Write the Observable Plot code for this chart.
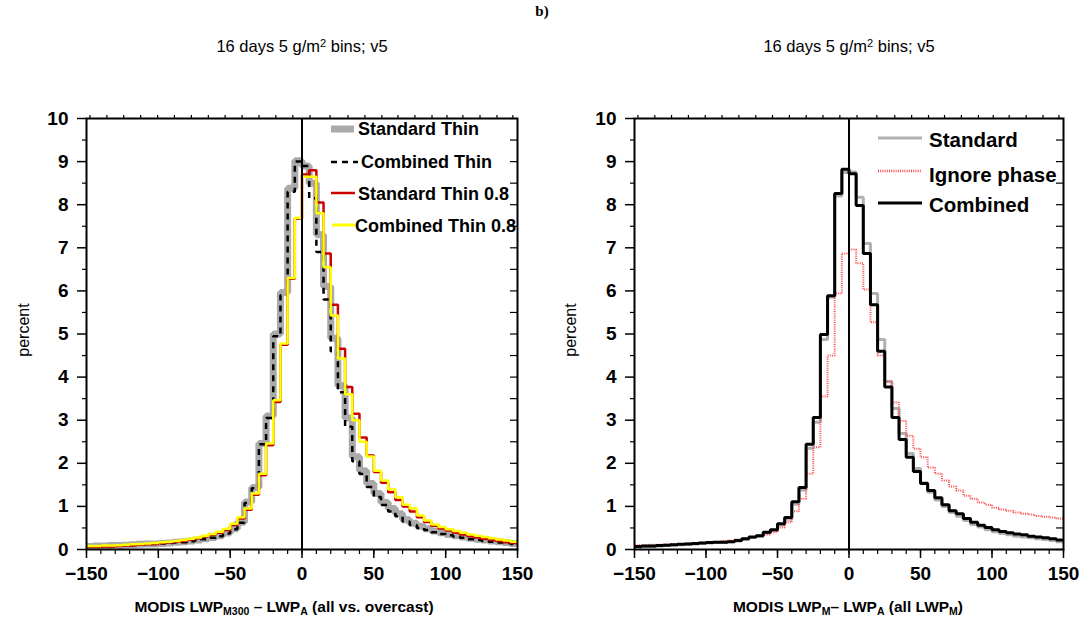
<!DOCTYPE html>
<html>
<head>
<meta charset="utf-8">
<script src="https://cdn.jsdelivr.net/npm/d3@7"></script>
<script src="https://cdn.jsdelivr.net/npm/@observablehq/plot@0.6"></script>
<style>
  body { margin: 0; background: #fff; }
  #fig { position: relative; width: 1084px; height: 620px; background: #fff; font-family: "Liberation Sans", Arial, sans-serif; color: #000; overflow: hidden; }
  .abs { position: absolute; }
  .title { font-family: "Liberation Serif", "Times New Roman", serif; font-weight: bold; font-size: 15px; left: 0; width: 1084px; text-align: center; top: 3px; }
  .sub { font-size: 16.5px; width: 300px; text-align: center; top: 37px; }
  .ylab { font-size: 16px; width: 100px; text-align: center; transform: rotate(-90deg); transform-origin: 50% 50%; height: 18px; line-height: 18px; }
  .xlab { font-size: 15.5px; font-weight: bold; width: 460px; text-align: center; top: 598px; white-space: nowrap; }
  .xlab sub { font-size: 10.5px; vertical-align: -3px; }
  .sub sup { font-size: 11px; vertical-align: 5px; }
</style>
</head>
<body>
<div id="fig">
  <div class="abs title">b)</div>
  <div class="abs sub" style="left:152px">16 days 5 g/m<sup>2</sup> bins; v5</div>
  <div class="abs sub" style="left:699px">16 days 5 g/m<sup>2</sup> bins; v5</div>
  <div id="left" class="abs" style="left:0;top:0"></div>
  <div id="right" class="abs" style="left:542px;top:0"></div>
  <div class="abs ylab" style="left:-26px;top:321px">percent</div>
  <div class="abs ylab" style="left:521px;top:321px">percent</div>
  <div class="abs xlab" style="left:54px">MODIS LWP<sub>M300</sub> – LWP<sub>A</sub> (all vs. overcast)</div>
  <div class="abs xlab" style="left:618px">MODIS LWP<sub>M</sub>– LWP<sub>A</sub> (all LWP<sub>M</sub>)</div>
  <svg class="abs" style="left:0;top:0" width="1084" height="620" font-family="'Liberation Sans', Arial, sans-serif" font-weight="bold">
    <line x1="331" x2="354" y1="129" y2="129" stroke="#aaaaaa" stroke-width="7"/>
    <text x="358" y="135" font-size="18">Standard Thin</text>
    <line x1="331" x2="358" y1="162" y2="162" stroke="#000" stroke-width="2.5" stroke-dasharray="6,5"/>
    <text x="361" y="168" font-size="18">Combined Thin</text>
    <line x1="331" x2="355" y1="193" y2="193" stroke="#cc0000" stroke-width="2.5"/>
    <text x="358" y="200" font-size="18">Standard Thin 0.8</text>
    <line x1="332" x2="356" y1="225" y2="225" stroke="#ffff00" stroke-width="3"/>
    <text x="355" y="232" font-size="18">Combined Thin 0.8</text>

    <line x1="878" x2="922" y1="138" y2="138" stroke="#b0b0b0" stroke-width="3"/>
    <text x="929" y="147" font-size="20.5">Standard</text>
    <line x1="878" x2="922" y1="171" y2="171" stroke="#ff4d4d" stroke-width="2.5" stroke-dasharray="1,1.2"/>
    <text x="929" y="182" font-size="20.5">Ignore phase</text>
    <line x1="878" x2="922" y1="203" y2="203" stroke="#000" stroke-width="3"/>
    <text x="929" y="212" font-size="20.5">Combined</text>
  </svg>
</div>
<script>
// bin starts (5 g/m2 bins)
const bins = d3.range(-150, 150, 5);
const xMajor = [-150, -100, -50, 0, 50, 100, 150];
const xMinor = d3.range(-150, 151, 10);
const topTicks = [-147.6, -135.8, -124.1, -112.3, -100.5, -88.8, -77.0, -65.2, -53.5, -41.7, -29.9, -18.2, -6.4, 5.6, 19.5, 32.0, 43.8, 55.6, 66.8, 78.6, 90.5, 100.9, 112.0, 123.9, 135.7, 146.8];
const yMajor = d3.range(0, 11, 1);
const yMinor = d3.range(0.5, 10, 1);
const yRight = d3.range(0, 10.01, 0.5);

// Left panel series (percent per bin)
const standardThin = [0.07,0.08,0.08,0.09,0.09,0.10,0.11,0.12,0.13,0.13,
 0.14,0.15,0.17,0.18,0.20,0.22,0.25,0.28,0.32,0.38,
 0.48,0.63,1.10,1.44,2.46,3.10,5.00,5.96,8.38,9.02,
 8.90,8.50,7.30,6.10,4.90,3.80,3.05,2.15,1.83,1.53,
 1.30,1.09,0.95,0.83,0.69,0.61,0.54,0.48,0.43,0.39,
 0.35,0.32,0.29,0.26,0.24,0.22,0.20,0.18,0.16,0.14];
const combinedThin = [0.07,0.07,0.08,0.08,0.09,0.10,0.10,0.11,0.12,0.13,
 0.14,0.15,0.16,0.17,0.19,0.21,0.24,0.27,0.31,0.37,
 0.47,0.62,1.08,1.42,2.44,3.05,4.95,5.90,8.30,9.00,
 8.90,8.15,6.90,5.80,4.60,3.65,2.85,2.05,1.75,1.45,
 1.22,1.03,0.88,0.77,0.65,0.57,0.50,0.45,0.40,0.36,
 0.33,0.30,0.27,0.24,0.22,0.20,0.18,0.16,0.15,0.13];
const standardThin08 = [0.06,0.06,0.07,0.07,0.08,0.09,0.10,0.11,0.12,0.13,
 0.15,0.16,0.18,0.20,0.23,0.26,0.30,0.34,0.39,0.45,
 0.57,0.72,0.92,1.27,1.72,2.42,3.42,4.75,6.28,7.68,
 8.70,8.80,8.05,6.87,5.68,4.66,3.77,3.15,2.60,2.18,
 1.80,1.55,1.33,1.15,1.00,0.88,0.75,0.64,0.55,0.49,
 0.44,0.39,0.35,0.31,0.28,0.25,0.22,0.20,0.17,0.15];
const combinedThin08 = [0.08,0.08,0.09,0.09,0.10,0.11,0.12,0.13,0.14,0.15,
 0.17,0.18,0.20,0.22,0.25,0.28,0.32,0.36,0.41,0.48,
 0.60,0.75,0.95,1.30,1.76,2.46,3.46,4.78,6.30,7.70,
 8.65,8.65,7.80,6.55,5.43,4.43,3.60,3.00,2.50,2.16,
 1.83,1.60,1.39,1.21,1.04,0.95,0.79,0.67,0.58,0.52,
 0.47,0.43,0.39,0.35,0.32,0.29,0.26,0.23,0.21,0.18];

// Right panel series
const standard = [0.06,0.07,0.07,0.08,0.09,0.10,0.11,0.12,0.13,0.14,
 0.15,0.16,0.17,0.18,0.20,0.24,0.28,0.31,0.38,0.44,
 0.57,0.70,1.05,1.38,2.35,2.95,4.87,5.85,8.20,8.75,
 8.76,8.17,7.10,5.94,4.87,3.90,3.27,2.69,2.23,1.88,
 1.55,1.33,1.15,1.00,0.86,0.77,0.67,0.58,0.52,0.46,
 0.41,0.37,0.34,0.31,0.29,0.27,0.25,0.23,0.21,0.18];
const ignorePhase = [0.10,0.10,0.11,0.11,0.12,0.12,0.13,0.14,0.15,0.16,
 0.17,0.18,0.19,0.21,0.23,0.25,0.28,0.31,0.35,0.40,
 0.51,0.63,0.89,1.18,1.76,2.37,3.55,4.50,5.94,6.87,
 6.96,6.64,6.03,5.27,4.50,3.90,3.41,2.99,2.64,2.34,
 2.14,1.90,1.76,1.60,1.46,1.37,1.25,1.18,1.09,1.04,
 0.97,0.93,0.90,0.86,0.83,0.81,0.78,0.76,0.74,0.72];
const combined = [0.07,0.08,0.08,0.09,0.10,0.11,0.12,0.13,0.14,0.15,
 0.16,0.17,0.17,0.18,0.21,0.25,0.29,0.32,0.40,0.46,
 0.60,0.74,1.11,1.44,2.44,3.06,4.99,5.89,8.26,8.82,
 8.72,7.98,6.87,5.68,4.60,3.77,3.06,2.55,2.14,1.81,
 1.53,1.37,1.20,1.04,0.90,0.83,0.72,0.63,0.56,0.51,
 0.46,0.42,0.39,0.36,0.34,0.31,0.29,0.27,0.25,0.22];

function steps(values) {
  const pts = bins.map((b, i) => ({x: b, y: values[i]}));
  pts.push({x: 150, y: values[values.length - 1]});
  return pts;
}
const fmt = d => d < 0 ? "\u2212" + Math.abs(d) : String(d);
const blank = () => "";

function panel(opts, series) {
  const innerW = opts.width - opts.marginLeft - opts.marginRight;
  return Plot.plot({
    ...opts,
    height: 620,
    marginTop: 118,
    marginBottom: 71,
    x: {domain: [-150, 150]},
    y: {domain: [0, 10]},
    style: {fontFamily: "'Liberation Sans', Arial, sans-serif", fontSize: "19px", fontWeight: "bold", color: "#000", background: "transparent", overflow: "visible"},
    marks: [
      Plot.axisX({anchor: "bottom", ticks: xMajor, tickSize: 9, tickPadding: 8, tickFormat: fmt, label: null, fontSize: 19, fontWeight: "bold", strokeWidth: 1.5}),
      Plot.axisX({anchor: "bottom", ticks: xMinor, tickSize: 5, tickFormat: blank, label: null, strokeWidth: 1.2}),
      Plot.axisX({anchor: "top", ticks: topTicks, tickSize: 4, tickFormat: blank, label: null, strokeWidth: 1.2}),
      Plot.axisY({anchor: "left", ticks: yMajor, tickSize: 9, tickPadding: 9, label: null, fontSize: 19, fontWeight: "bold", strokeWidth: 1.5}),
      Plot.axisY({anchor: "left", ticks: yMinor, tickSize: 4, tickFormat: blank, label: null, strokeWidth: 1.2}),
      Plot.tickY(yRight, {y: d => d, insetLeft: innerW - 7, strokeWidth: 1.2}),
      ...series.map(s => Plot.line(steps(s.values), {x: "x", y: "y", curve: "step-after", stroke: s.color, strokeWidth: s.width, strokeDasharray: s.dash, strokeLinejoin: "miter", strokeLinecap: "butt"})),
      Plot.ruleX([0], {stroke: "#000", strokeWidth: 2}),
      Plot.frame({stroke: "#000", strokeWidth: 2})
    ]
  });
}

document.getElementById("left").appendChild(panel(
  {width: 542, marginLeft: 86, marginRight: 25},
  [
    {values: standardThin, color: "#aaaaaa", width: 7},
    {values: combinedThin, color: "#000000", width: 2.5, dash: "6,5"},
    {values: standardThin08, color: "#cc0000", width: 2.5},
    {values: combinedThin08, color: "#ffff00", width: 2.5}
  ]
));
document.getElementById("right").appendChild(panel(
  {width: 542, marginLeft: 92, marginRight: 21},
  [
    {values: standard, color: "#b0b0b0", width: 3},
    {values: ignorePhase, color: "#ff4d4d", width: 2, dash: "1,1.2"},
    {values: combined, color: "#000000", width: 3}
  ]
));
</script>
</body>
</html>
